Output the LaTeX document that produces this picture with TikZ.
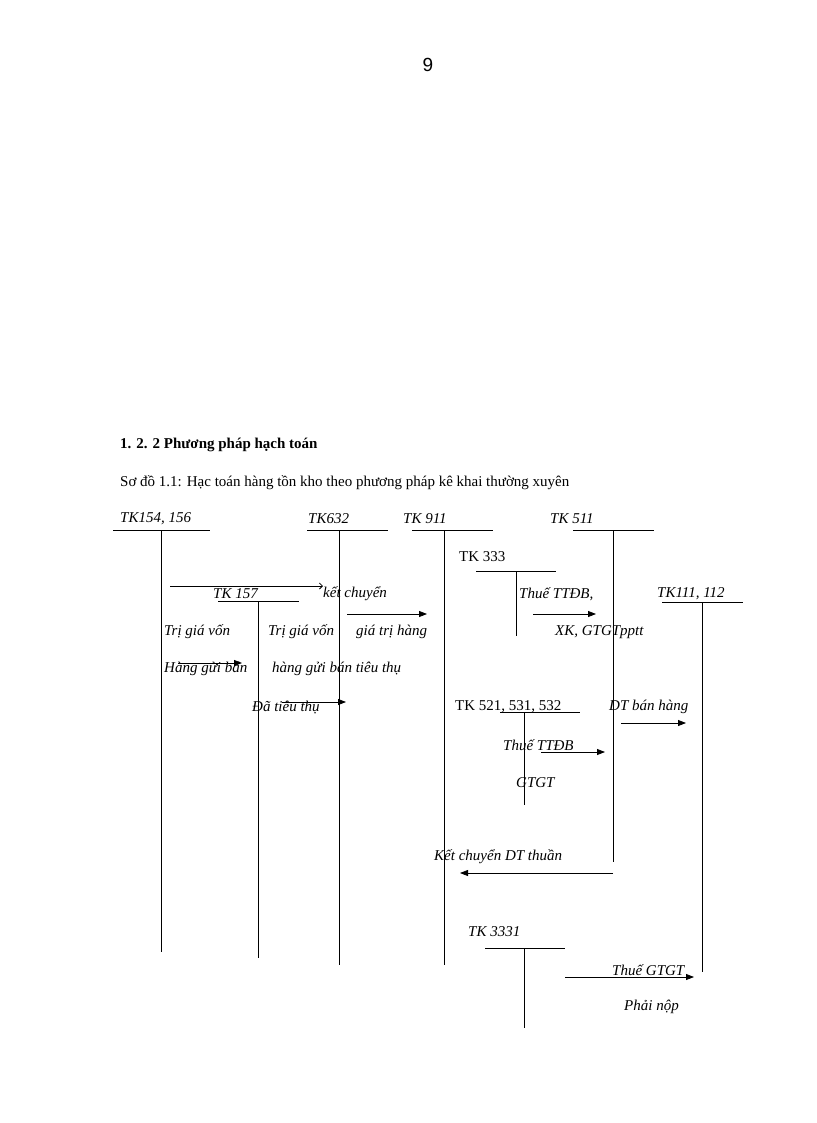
\documentclass[tikz,border=0pt]{standalone}
\usepackage{fontspec}
\setmainfont{Liberation Serif}
\newfontfamily\pagefont{Liberation Sans}
\usetikzlibrary{arrows.meta}
\begin{document}
\begin{tikzpicture}[x=1pt,y=-1pt,
  lbl/.style={anchor=west,inner sep=0pt,font=\fontsize{15}{18}\selectfont\itshape},
  up/.style={anchor=west,inner sep=0pt,font=\fontsize{15}{18}\selectfont},
  acc/.style={line width=0.8pt},
  arr/.style={line width=0.8pt,-{Triangle[length=8pt,width=6pt]}}]
\useasboundingbox (0,0) rectangle (816,1123);
\node[inner sep=0pt,font=\pagefont\fontsize{19}{22}\selectfont] (pg) at (428,65) {9};
\node[up,font=\fontsize{15}{18}\selectfont\bfseries] (h) at (120,445) {1. 2. 2 Phương pháp hạch toán};
\node[up] (s) at (120,483) {Sơ đồ 1.1: Hạc toán hàng tồn kho theo phương pháp kê khai thường xuyên};
% account headers
\node[lbl] (t154) at (120,519) {TK154, 156};
\node[lbl] (t632) at (308,519) {TK632};
\node[lbl] (t911) at (403,519) {TK 911};
\node[lbl] (t511) at (550,519) {TK 511};
\node[up] (t333) at (459,557) {TK 333};
\node[lbl] (t157) at (213,594) {TK 157};
\node[lbl] (t111) at (657,594) {TK111, 112};
\node[up] (t521) at (455,707) {TK 521, 531, 532};
\node[lbl] (t3331) at (468,932) {TK 3331};
% T-accounts
\draw[acc] (113,530) -- (210,530) (161,530) -- (161,952);
\draw[acc] (307,530) -- (388,530) (339,530) -- (339,965);
\draw[acc] (412,530) -- (493,530) (444,530) -- (444,965);
\draw[acc] (573,530) -- (654,530) (613,530) -- (613,862);
\draw[acc] (476,571) -- (556,571) (516,571) -- (516,636);
\draw[acc] (218,601) -- (299,601) (258,601) -- (258,958);
\draw[acc] (662,602) -- (743,602) (702,602) -- (702,972);
\draw[acc] (500,712) -- (580,712) (524,712) -- (524,805);
\draw[acc] (485,948) -- (565,948) (524,948) -- (524,1028);
% labels
\node[lbl] (kc) at (323,594) {kết chuyển};
\node[lbl] (thue1) at (519,594) {Thuế TTĐB,};
\node[lbl] (tgv1) at (164,632) {Trị giá vốn};
\node[lbl] (tgv2) at (268,632) {Trị giá vốn};
\node[lbl] (gth) at (356,632) {giá trị hàng};
\node[lbl] (xk) at (555,632) {XK, GTGTpptt};
\node[lbl] (hgb) at (164,669) {Hàng gửi bán};
\node[lbl] (hgbt) at (272,669) {hàng gửi bán tiêu thụ};
\node[lbl] (dtt) at (252,708) {Đã tiêu thụ};
\node[lbl] (dtbh) at (609,707) {DT bán hàng};
\node[lbl] (thue2) at (503,745) {Thuế TTĐB};
\node[lbl] (gtgt) at (516,783) {GTGT};
\node[lbl] (kcdt) at (434,857) {Kết chuyển DT thuần};
\node[lbl] (thue3) at (612,970) {Thuế GTGT};
\node[lbl] (pn) at (624,1007) {Phải nộp};
% arrows
\draw[line width=0.8pt,-{Straight Barb[length=3pt]}] (170,586) -- (323,586);
\draw[arr] (347,614) -- (427,614);
\draw[arr] (533,614) -- (596,614);
\draw[arr] (178,663) -- (242,663);
\draw[arr] (282,702) -- (346,702);
\draw[arr] (621,723) -- (686,723);
\draw[arr] (541,752) -- (605,752);
\draw[arr] (613,873) -- (460,873);
\draw[arr] (565,977) -- (694,977);
\end{tikzpicture}
\end{document}
